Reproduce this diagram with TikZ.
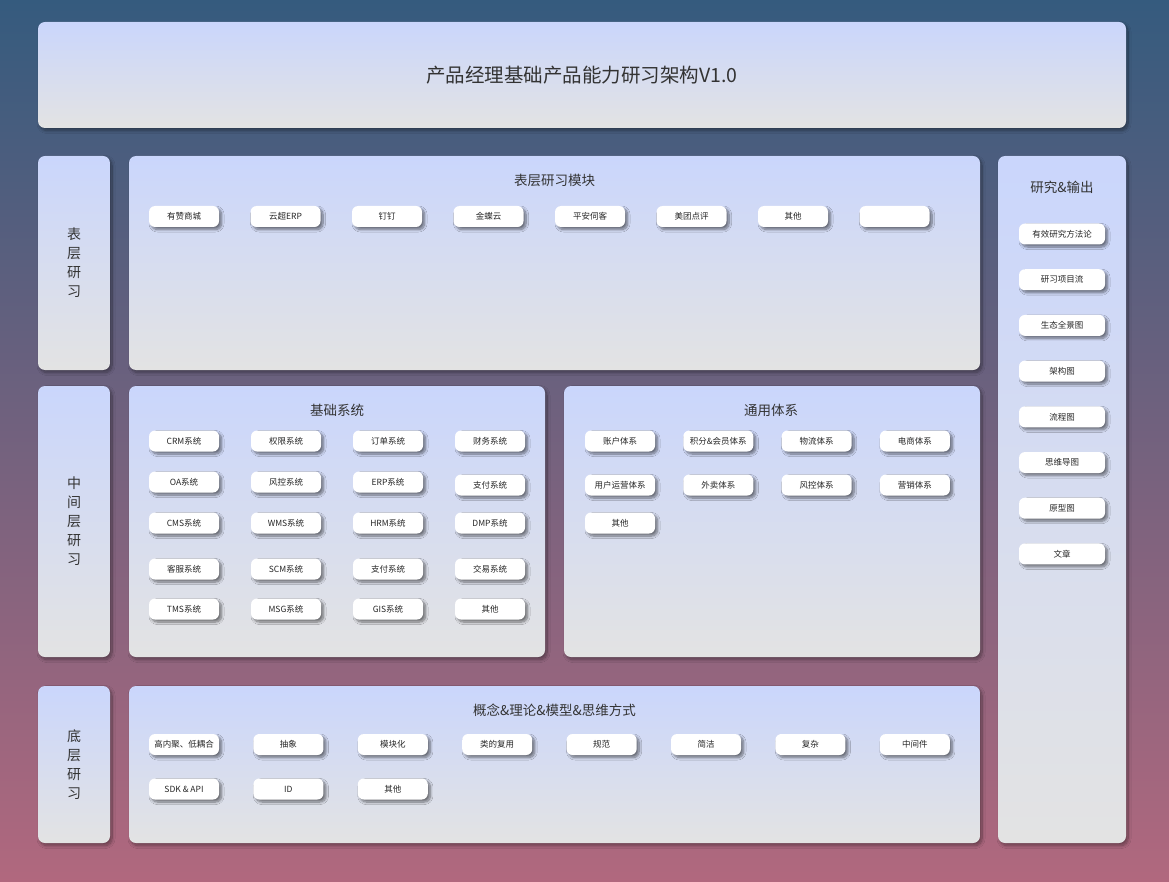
\documentclass[tikz,border=0pt]{standalone}
\usepackage{fontspec}
\newfontfamily\cjk{Noto Sans CJK SC}
\usetikzlibrary{shadows,shadows.blur}
\definecolor{bgtop}{HTML}{355B7E}
\definecolor{bgbot}{HTML}{B1687E}
\definecolor{pantop}{HTML}{CAD6FC}
\definecolor{panbot}{HTML}{E3E3E3}
\definecolor{ink}{HTML}{333333}
\tikzset{
  panel/.style={rounded corners=7pt, top color=pantop, bottom color=panbot,
    inner sep=0, blur shadow={shadow xshift=2pt, shadow yshift=-2.5pt,
    shadow blur radius=3pt, shadow blur steps=12, shadow opacity=40}},
  chip/.style={rounded corners=6pt, fill=white, inner sep=0,
    minimum width=70, minimum height=21, text=black!85,
    font=\cjk\fontsize{8.5}{10}\selectfont,
    blur shadow={shadow xshift=2.5pt, shadow yshift=-2.5pt,
    shadow blur radius=2.5pt, shadow blur steps=10, shadow opacity=50}},
  ptitle/.style={text=ink, font=\cjk\fontsize{13.5}{16}\selectfont}
}

\begin{document}
\begin{tikzpicture}[x=1pt, y=-1pt]
      \shade [top color=bgtop, bottom color=bgbot] (0,0) rectangle (1169,882);
      \useasboundingbox (0,0) rectangle (1169,882);
      % panels
      \node [panel, minimum width=1088, minimum height=106] (tit) at (582,75) {};
      \node [text=ink, font=\cjk\fontsize{19.5}{22}\selectfont] at (tit) {产品经理基础产品能力研习架构V1.0};
      \node [panel, minimum width=72, minimum height=214] (lab1) at (74,263) {};
      \node [panel, minimum width=72, minimum height=271] (lab2) at (74,521.5) {};
      \node [panel, minimum width=72, minimum height=157] (lab3) at (74,764.5) {};
      \node [panel, minimum width=851, minimum height=214] (surf) at (554.5,263) {};
      \node [panel, minimum width=416, minimum height=271] (base) at (337,521.5) {};
      \node [panel, minimum width=416, minimum height=271] (gen) at (772,521.5) {};
      \node [panel, minimum width=851, minimum height=157] (conc) at (554.5,764.5) {};
      \node [panel, minimum width=128, minimum height=687] (out) at (1062,499.5) {};
      % side labels
      \node [ptitle, align=center, font=\cjk\fontsize{14}{19}\selectfont] at (lab1) {表\\层\\研\\习};
      \node [ptitle, align=center, font=\cjk\fontsize{14}{19}\selectfont] at (lab2) {中\\间\\层\\研\\习};
      \node [ptitle, align=center, font=\cjk\fontsize{14}{19}\selectfont] at (lab3) {底\\层\\研\\习};
      % titles
      \node [ptitle] (surft) at (554.5,180) {表层研习模块};
      \node [ptitle] (baset) at (337,410) {基础系统};
      \node [ptitle] (gent) at (771,410) {通用体系};
      \node [ptitle] (conct) at (554.5,710) {概念\&理论\&模型\&思维方式};
      \node [ptitle] (outt) at (1062,187) {研究\&输出};
      % surface chips
      \foreach \t [count=\i] in {有赞商城,云超ERP,钉钉,金蝶云,平安伺客,美团点评,其他,{}}
        \node [chip] (s\i) at ({184+101.5*(\i-1)},216.5) {\t};
      % base systems
      \foreach \t [count=\i] in {CRM系统,权限系统,订单系统,财务系统}
        \node [chip] (ba\i) at ({184+102*(\i-1)},441) {\t};
      \foreach \t/\y [count=\i] in {OA系统/482,风控系统/482,ERP系统/482,支付系统/485}
        \node [chip] (bb\i) at ({184+102*(\i-1)},\y) {\t};
      \foreach \t [count=\i] in {CMS系统,WMS系统,HRM系统,DMP系统}
        \node [chip] (bc\i) at ({184+102*(\i-1)},523) {\t};
      \foreach \t [count=\i] in {客服系统,SCM系统,支付系统,交易系统}
        \node [chip] (bd\i) at ({184+102*(\i-1)},569) {\t};
      \foreach \t [count=\i] in {TMS系统,MSG系统,GIS系统,其他}
        \node [chip] (be\i) at ({184+102*(\i-1)},609) {\t};
      % general systems
      \foreach \t [count=\i] in {账户体系,积分\&会员体系,物流体系,电商体系}
        \node [chip] (ga\i) at ({620+98.3*(\i-1)},441) {\t};
      \foreach \t [count=\i] in {用户运营体系,外卖体系,风控体系,营销体系}
        \node [chip] (gb\i) at ({620+98.3*(\i-1)},485) {\t};
      \node [chip] (gc1) at (620,523) {其他};
      % concepts
      \foreach \t [count=\i] in {高内聚、低耦合,抽象,模块化,类的复用,规范,简洁,复杂,中间件}
        \node [chip] (ca\i) at ({184+104.4*(\i-1)},744.5) {\t};
      \foreach \t [count=\i] in {SDK \& API,ID,其他}
        \node [chip] (cb\i) at ({184+104.4*(\i-1)},789) {\t};
      % output
      \foreach \t [count=\i] in {有效研究方法论,研习项目流,生态全景图,架构图,流程图,思维导图,原型图,文章}
        \node [chip, minimum width=86] (o\i) at (1062,{234+45.7*(\i-1)}) {\t};
\end{tikzpicture}
\end{document}
